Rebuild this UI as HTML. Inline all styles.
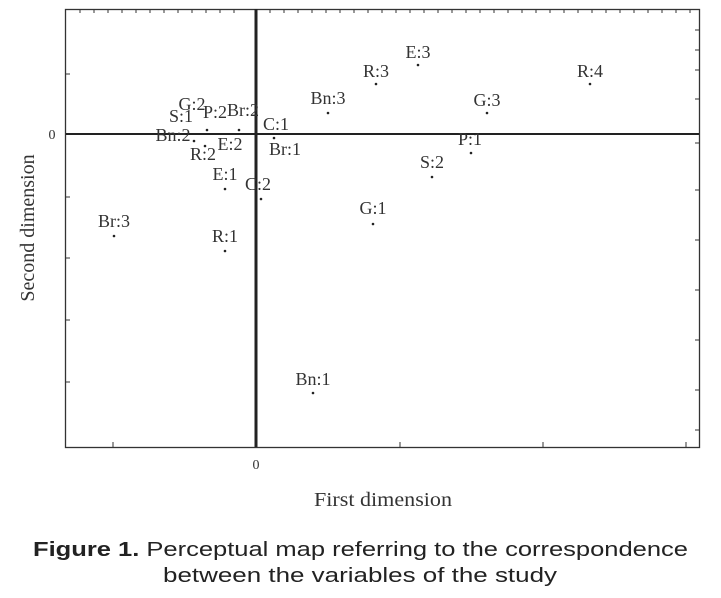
<!DOCTYPE html>
<html><head><meta charset="utf-8"><style>
html,body{margin:0;padding:0;background:#fff;}
svg{display:block}
</style></head><body>
<svg width="721" height="598" viewBox="0 0 721 598" xmlns="http://www.w3.org/2000/svg">
<rect x="65.5" y="9.5" width="634" height="438" fill="none" stroke="#333" stroke-width="1.3"/>
<g stroke="#333" stroke-width="1">
<path d="M113 447v-5M400 447v-5M543 447v-5M686 447v-5"/>
<path d="M66 197h4M66 258h4M66 320h4M66 382h4M66 74h4"/>
<path d="M695 30h4M695 50h4M695 70h4M695 99h4M695 143h4M695 190h4M695 240h4M695 290h4M695 340h4M695 390h4M695 430h4"/>
</g>
<g stroke="#333" stroke-width="1">
<path d="M80 10v3M94 10v3M108 10v3M122 10v3M136 10v3M150 10v3M164 10v3M178 10v3M192 10v3M206 10v3M220 10v3M234 10v3M270 10v3M284 10v3M298 10v3M312 10v3M326 10v3M340 10v3M354 10v3M368 10v3M382 10v3M396 10v3M410 10v3M424 10v3M438 10v3M452 10v3M466 10v3M480 10v3M494 10v3M508 10v3M522 10v3M536 10v3M550 10v3M564 10v3M578 10v3M592 10v3M606 10v3M620 10v3M634 10v3M648 10v3M662 10v3M676 10v3M690 10v3"/>
</g>
<line x1="66" y1="134" x2="699" y2="134" stroke="#222" stroke-width="2"/>
<line x1="256" y1="9" x2="256" y2="447" stroke="#222" stroke-width="3"/>
<g fill="#222">
<circle cx="418" cy="65" r="1.3"/><circle cx="376" cy="84" r="1.3"/><circle cx="590" cy="84" r="1.3"/>
<circle cx="328" cy="113" r="1.3"/><circle cx="487" cy="113" r="1.3"/><circle cx="471" cy="153" r="1.3"/>
<circle cx="432" cy="177" r="1.3"/><circle cx="373" cy="224" r="1.3"/><circle cx="313" cy="393" r="1.3"/>
<circle cx="114" cy="236" r="1.3"/><circle cx="225" cy="251" r="1.3"/><circle cx="225" cy="189" r="1.3"/>
<circle cx="261" cy="199" r="1.3"/><circle cx="207" cy="130" r="1.3"/><circle cx="239" cy="130" r="1.3"/>
<circle cx="194" cy="141" r="1.3"/><circle cx="205" cy="146" r="1.3"/><circle cx="274" cy="138" r="1.3"/>
</g>
<g font-family="Liberation Serif, serif" font-size="18" fill="#333" text-anchor="middle">
<text x="418" y="58">E:3</text>
<text x="376" y="77">R:3</text>
<text x="590" y="77">R:4</text>
<text x="328" y="104">Bn:3</text>
<text x="487" y="106">G:3</text>
<text x="470" y="145">P:1</text>
<text x="432" y="168">S:2</text>
<text x="373" y="214">G:1</text>
<text x="313" y="385">Bn:1</text>
<text x="114" y="227">Br:3</text>
<text x="225" y="242">R:1</text>
<text x="225" y="180">E:1</text>
<text x="258" y="190">C:2</text>
<text x="285" y="155">Br:1</text>
<text x="276" y="130">C:1</text>
<text x="192" y="110">G:2</text>
<text x="181" y="122">S:1</text>
<text x="215" y="118">P:2</text>
<text x="243" y="116">Br:2</text>
<text x="173" y="141">Bn:2</text>
<text x="230" y="150">E:2</text>
<text x="203" y="160">R:2</text>
<text x="52" y="139" font-size="14">0</text>
<text x="256" y="469" font-size="14">0</text>
<text x="383" y="506" font-size="20" textLength="138" lengthAdjust="spacingAndGlyphs">First dimension</text>
<text transform="translate(34,228) rotate(-90)" font-size="20">Second dimension</text>
</g>
<g font-family="Liberation Sans, sans-serif" font-size="20" fill="#222">
<text x="33" y="556" textLength="655" lengthAdjust="spacingAndGlyphs"><tspan font-weight="bold">Figure 1.</tspan> Perceptual map referring to the correspondence</text>
<text x="163" y="582" textLength="394" lengthAdjust="spacingAndGlyphs">between the variables of the study</text>
</g>
</svg>
</body></html>
